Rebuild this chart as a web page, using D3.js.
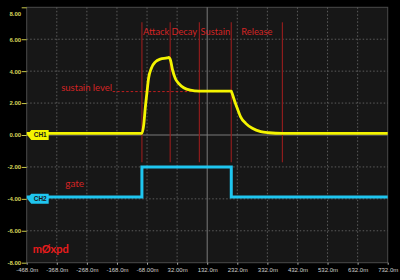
<!DOCTYPE html>
<html>
<head>
<meta charset="utf-8">
<script src="https://cdn.jsdelivr.net/npm/d3@7"></script>
<style>
  body { margin: 0; background: #000; }
  svg { display: block; }
</style>
</head>
<body>
<div class="container"></div>
<script>
var w = 400;
var h = 280;
var margin = { top: 7.3, right: 12.3, bottom: 17.3, left: 26.7 };

// data (time in ms, volts)
var xTicks = [-468, -368, -268, -168, -68, 32, 132, 232, 332, 432, 532, 632, 732];
var xTickLabels = ["-468.0m", "-368.0m", "-268.0m", "-168.0m", "-68.00m", "32.00m", "132.0m",
  "232.0m", "332.0m", "432.0m", "532.0m", "632.0m", "732.0m"];
var yTicks = [8, 6, 4, 2, 0, -2, -4, -6, -8];
var yTickLabels = ["8.00", "6.00", "4.00", "2.00", "0.00", "-2.00", "-4.00", "-6.00", "-8.00"];

var ch1Time = [-468, -85, -79, -74, -68, -63, -54, -40, -24, -1, 4, 10, 17, 26, 37, 54, 76, 104,
  212, 215, 224, 232, 243, 260, 282, 310, 337, 382, 732];
var ch1Volts = [0.1, 0.1, 0.63, 1.67, 2.71, 3.54, 4.17, 4.58, 4.75, 4.83, 4.86, 4.69, 4.06, 3.54,
  3.23, 2.96, 2.81, 2.75, 2.75, 2.6, 2.08, 1.67, 1.14, 0.73, 0.42, 0.21, 0.14, 0.1, 0.1];
var ch2Time = [-468, -85, -85, 212, 212, 732];
var ch2Volts = [-3.88, -3.88, -2.0, -2.0, -3.88, -3.88];

var phaseNames = ["Attack", "Decay", "Sustain", "Release"];
var phaseBounds = [-85, 9, 106, 212, 382];
var sustainLevel = 2.72;

var iw = w - margin.left - margin.right;
var ih = h - margin.top - margin.bottom;

var x = d3.scaleLinear().domain([-468, 732]).range([0, iw]);
var y = d3.scaleLinear().domain([-8, 8]).range([ih, 0]);

var svg = d3.select(".container").append("svg").attr("width", w).attr("height", h);
var g = svg.append("g").attr("transform", "translate(" + margin.left + "," + margin.top + ")");

g.append("rect").attr("width", iw).attr("height", ih).attr("fill", "#171717")
  .attr("stroke", "#4a4a4a").attr("stroke-width", 1);

// grid
g.append("g").selectAll("line").data(xTicks.slice(1, -1)).enter().append("line")
  .attr("x1", d => x(d)).attr("x2", d => x(d)).attr("y1", 0).attr("y2", ih)
  .attr("stroke", d => d == 132 ? "#7a7a7a" : "#5c5c5c")
  .attr("stroke-dasharray", d => d == 132 ? null : "1.5,2");
g.append("g").selectAll("line").data(yTicks.slice(1, -1)).enter().append("line")
  .attr("y1", d => y(d)).attr("y2", d => y(d)).attr("x1", 0).attr("x2", iw)
  .attr("stroke", d => d == 0 ? "#7a7a7a" : "#5c5c5c")
  .attr("stroke-dasharray", d => d == 0 ? null : "1.5,2");

// axes
var yAxis = g.append("g").call(d3.axisLeft(y).tickValues(yTicks).tickSize(5)
  .tickFormat((d, i) => yTickLabels[i]));
yAxis.select(".domain").remove();
yAxis.selectAll("line").attr("stroke", "#c8c84a");
yAxis.selectAll("text").attr("fill", "#d6d65a").attr("font-family", "Liberation Sans, Arial")
  .attr("font-size", 6).attr("font-weight", "bold").attr("x", -5.5);
yAxis.selectAll(".tick").filter(d => d == 8).select("text").attr("dy", "8.7");

var xAxis = g.append("g").attr("transform", "translate(0," + ih + ")")
  .call(d3.axisBottom(x).tickValues(xTicks).tickSize(2).tickFormat((d, i) => xTickLabels[i]));
xAxis.select(".domain").remove();
xAxis.selectAll("line").attr("stroke", "#aaa");
xAxis.selectAll("text").attr("fill", "#d0d0d0").attr("font-family", "Liberation Sans, Arial")
  .attr("font-size", 6).attr("y", 5);

// ADSR markers
var red = "#d42424";
g.append("g").selectAll("line").data(phaseBounds).enter().append("line")
  .attr("x1", d => x(d)).attr("x2", d => x(d)).attr("y1", 15).attr("y2", 155)
  .attr("stroke", "#8e1c1c").attr("stroke-width", 1.2);

g.append("g").selectAll("text").data(phaseNames).enter().append("text")
  .attr("x", (d, i) => i == 3 ? (x(phaseBounds[3]) + x(phaseBounds[4])) / 2 : x(phaseBounds[i]) + 1.2)
  .attr("text-anchor", (d, i) => i == 3 ? "middle" : "start")
  .attr("y", 28).attr("fill", red).attr("font-family", "Lato").attr("font-size", 9.3)
  .text(d => d);

g.append("text").attr("x", 34.5).attr("y", y(sustainLevel) - 0.5).attr("fill", red)
  .attr("font-family", "Lato").attr("font-size", 9.5).text("sustain level");
g.append("line").attr("x1", 86).attr("x2", x(phaseBounds[3]))
  .attr("y1", y(sustainLevel)).attr("y2", y(sustainLevel))
  .attr("stroke", "#c02020").attr("stroke-dasharray", "2.5,2");

// traces
var line = d3.line().x(d => x(d[0])).y(d => y(d[1]));
g.append("path").datum(d3.zip(ch2Time, ch2Volts)).attr("d", line)
  .attr("fill", "none").attr("stroke", "#1fc6f0").attr("stroke-width", 3);
g.append("path").datum(d3.zip(ch1Time, ch1Volts)).attr("d", d3.line().curve(d3.curveMonotoneX)
  .x(d => x(d[0])).y(d => y(d[1])))
  .attr("fill", "none").attr("stroke", "#f4f400").attr("stroke-width", 2.8);

// channel badges
function badge(name, level, color) {
  var yy = y(level);
  g.append("path").attr("d", "M0.5," + yy + "L4.5," + (yy - 5) + "L22," + (yy - 5) + "L22," + (yy + 5) +
    "L4.5," + (yy + 5) + "Z").attr("fill", color);
  g.append("text").attr("x", 13.5).attr("y", yy + 2.3).attr("text-anchor", "middle")
    .attr("font-family", "Liberation Sans, Arial").attr("font-size", 6.5).attr("font-weight", "bold")
    .attr("fill", "#1a1a1a").text(name);
}
badge("CH1", 0, "#f4f400");
badge("CH2", -4, "#1fc6f0");

g.append("text").attr("x", 38.5).attr("y", 179.5).attr("fill", red)
  .attr("font-family", "Lato").attr("font-size", 10).text("gate");
g.append("text").attr("x", 6).attr("y", 246).attr("fill", "#e81c1c")
  .attr("font-family", "Lato").attr("font-weight", "bold").attr("font-size", 11).text("mØxpd");
</script>
</body>
</html>
